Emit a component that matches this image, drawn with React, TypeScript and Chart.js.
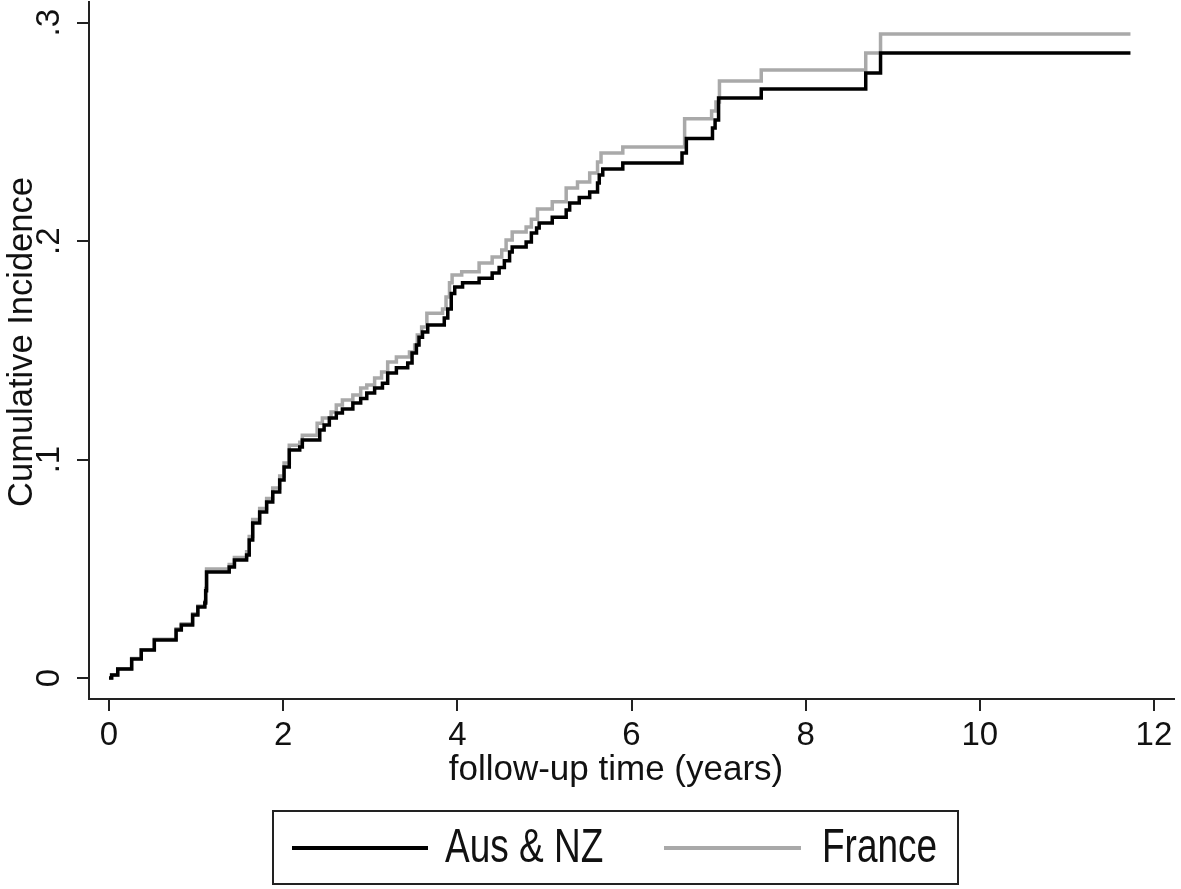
import React, { useEffect, useRef } from 'react';
import { Chart, registerables } from 'chart.js';

Chart.register(...registerables);

// ---- data ----
const seriesLabels = ['Aus & NZ', 'France'];

const ausTimes = [0, 0.03, 0.10, 0.26, 0.37, 0.52, 0.77, 0.83, 0.96, 1.02, 1.10, 1.11, 1.12, 1.38, 1.44, 1.58, 1.61, 1.65, 1.73, 1.81, 1.88, 1.96, 2.01, 2.07, 2.19, 2.22, 2.42, 2.47, 2.53, 2.61, 2.68, 2.80, 2.89, 2.96, 3.05, 3.14, 3.20, 3.30, 3.43, 3.48, 3.53, 3.56, 3.60, 3.66, 3.85, 3.89, 3.93, 3.97, 4.06, 4.25, 4.40, 4.48, 4.54, 4.60, 4.63, 4.79, 4.85, 4.91, 4.94, 5.09, 5.25, 5.29, 5.40, 5.52, 5.61, 5.63, 5.67, 5.90, 6.58, 6.63, 6.93, 6.96, 7.00, 7.49, 8.69, 8.86, 11.73];
const ausValues = [0, 0.0014, 0.0041, 0.0087, 0.0128, 0.0174, 0.0220, 0.0243, 0.0288, 0.0325, 0.0343, 0.040, 0.0485, 0.0508, 0.0540, 0.0563, 0.0632, 0.0710, 0.0760, 0.0806, 0.0852, 0.0907, 0.0966, 0.1044, 0.1058, 0.1090, 0.1136, 0.1158, 0.1190, 0.1213, 0.1232, 0.1259, 0.1280, 0.1305, 0.1328, 0.1350, 0.1397, 0.1420, 0.1442, 0.1488, 0.1525, 0.1560, 0.1584, 0.1616, 0.1648, 0.1690, 0.1760, 0.1790, 0.1810, 0.1830, 0.1854, 0.1880, 0.1910, 0.1950, 0.1973, 0.1996, 0.2037, 0.2060, 0.2083, 0.2110, 0.2143, 0.2175, 0.2200, 0.2225, 0.2266, 0.2303, 0.2330, 0.2358, 0.2404, 0.2470, 0.2518, 0.2555, 0.2656, 0.2697, 0.2770, 0.2862, 0.2862];

const franceTimes = [0, 0.03, 0.10, 0.26, 0.37, 0.52, 0.77, 0.83, 0.96, 1.02, 1.10, 1.11, 1.12, 1.38, 1.44, 1.58, 1.61, 1.65, 1.73, 1.81, 1.88, 1.96, 2.01, 2.07, 2.19, 2.22, 2.39, 2.45, 2.55, 2.61, 2.68, 2.80, 2.89, 2.96, 3.05, 3.13, 3.20, 3.30, 3.45, 3.51, 3.54, 3.59, 3.65, 3.83, 3.87, 3.91, 3.94, 4.05, 4.25, 4.40, 4.51, 4.56, 4.63, 4.79, 4.85, 4.92, 5.09, 5.25, 5.38, 5.52, 5.61, 5.65, 5.90, 6.61, 6.92, 6.97, 7.01, 7.49, 8.69, 8.86, 11.73];
const franceValues = [0, 0.0014, 0.0043, 0.0089, 0.0130, 0.0178, 0.0226, 0.0249, 0.0294, 0.0330, 0.0350, 0.041, 0.0499, 0.0520, 0.0552, 0.0578, 0.0648, 0.0726, 0.0776, 0.0822, 0.0870, 0.0925, 0.0985, 0.1066, 0.1080, 0.1112, 0.1167, 0.1190, 0.1218, 0.1250, 0.1273, 0.1296, 0.1328, 0.1342, 0.1374, 0.1401, 0.1447, 0.1470, 0.1493, 0.1525, 0.1570, 0.1607, 0.1670, 0.1690, 0.1745, 0.1810, 0.1845, 0.1860, 0.1900, 0.1928, 0.1960, 0.2005, 0.2042, 0.2065, 0.2100, 0.2147, 0.2180, 0.2243, 0.2271, 0.2312, 0.2363, 0.2404, 0.2431, 0.2560, 0.2596, 0.2637, 0.2733, 0.2784, 0.2862, 0.2949, 0.2949];

const xTickValues = [0, 2, 4, 6, 8, 10, 12];
const xTickLabels = ['0', '2', '4', '6', '8', '10', '12'];
const yTickValues = [0, 0.1, 0.2, 0.3];
const yTickLabels = ['0', '.1', '.2', '.3'];
const xTitle = 'follow-up time (years)';
const yTitle = 'Cumulative Incidence';

// ---- styles ----
const FONT = "'Liberation Sans', Arial, Helvetica, sans-serif";
const AXIS_COLOR = '#222222';
const TEXT_COLOR = '#111111';
const seriesColors = ['#000000', '#a9a9a9'];

const axisTextPlugin = {
  id: 'axisText',
  afterDraw(chart: any) {
    const ctx = chart.ctx;
    const s = chart.scales.y;
    ctx.save();
    ctx.fillStyle = TEXT_COLOR;
    ctx.textAlign = 'center';
    ctx.textBaseline = 'middle';
    // rotated y tick labels
    ctx.font = `33px ${FONT}`;
    yTickValues.forEach((v, i) => {
      const py = s.getPixelForValue(v);
      ctx.save();
      ctx.translate(50, py);
      ctx.rotate(-Math.PI / 2);
      ctx.fillText(yTickLabels[i], 0, 0);
      ctx.restore();
    });
    // y title
    ctx.font = `34.5px ${FONT}`;
    ctx.save();
    ctx.translate(22, 342);
    ctx.rotate(-Math.PI / 2);
    ctx.fillText(yTitle, 0, 0);
    ctx.restore();
    // x title
    ctx.font = `35px ${FONT}`;
    ctx.fillText(xTitle, 616, 770);
    ctx.restore();
  },
};

const legendBoxPlugin = {
  id: 'legendBox',
  afterDraw(chart: any) {
    const ctx = chart.ctx;
    ctx.save();
    ctx.strokeStyle = AXIS_COLOR;
    ctx.lineWidth = 2;
    ctx.strokeRect(273, 811, 685, 73);
    const slots = [
      { x0: 292, x1: 428, tx: 445 },
      { x0: 664, x1: 801, tx: 822 },
    ];
    chart.data.datasets.forEach((ds: any, i: number) => {
      const sl = slots[i];
      ctx.strokeStyle = ds.borderColor;
      ctx.lineWidth = 4;
      ctx.beginPath();
      ctx.moveTo(sl.x0, 848);
      ctx.lineTo(sl.x1, 848);
      ctx.stroke();
      ctx.fillStyle = TEXT_COLOR;
      ctx.font = `37px ${FONT}`;
      ctx.textAlign = 'left';
      ctx.textBaseline = 'middle';
      ctx.save();
      ctx.translate(sl.tx, 849);
      ctx.scale(1, 1.3);
      ctx.fillText(ds.label, 0, 0);
      ctx.restore();
    });
    ctx.restore();
  },
};

export default function App() {
  const canvasRef = useRef<HTMLCanvasElement>(null);

  useEffect(() => {
    document.body.style.margin = '0';
    const canvas = canvasRef.current;
    if (!canvas) return;

    const makePoints = (ts: number[], vs: number[]) => ts.map((t, i) => ({ x: t, y: vs[i] }));

    const chart = new Chart(canvas, {
      type: 'line',
      data: {
        datasets: [
          {
            label: seriesLabels[0],
            data: makePoints(ausTimes, ausValues),
            borderColor: seriesColors[0],
            backgroundColor: seriesColors[0],
            borderWidth: 3.5,
            stepped: 'before',
            pointRadius: 0,
            fill: false,
          },
          {
            label: seriesLabels[1],
            data: makePoints(franceTimes, franceValues),
            borderColor: seriesColors[1],
            backgroundColor: seriesColors[1],
            borderWidth: 3.5,
            stepped: 'before',
            pointRadius: 0,
            fill: false,
          },
        ],
      },
      options: {
        animation: false,
        responsive: true,
        maintainAspectRatio: false,
        layout: { padding: { top: 2, right: 7, bottom: 0, left: 0 } },
        plugins: {
          legend: { display: false },
          tooltip: { enabled: false },
        },
        scales: {
          x: {
            type: 'linear',
            min: -0.23,
            max: 12.23,
            afterBuildTicks: (s: any) => {
              s.ticks = xTickValues.map((v) => ({ value: v }));
            },
            afterFit: (s: any) => {
              s.height = 190;
            },
            border: { display: true, color: AXIS_COLOR, width: 2 },
            grid: {
              display: true,
              drawOnChartArea: false,
              drawTicks: true,
              tickLength: 12,
              color: AXIS_COLOR,
              lineWidth: 2,
            },
            ticks: {
              color: TEXT_COLOR,
              font: { family: FONT, size: 33 },
              padding: 5,
              maxRotation: 0,
              minRotation: 0,
              autoSkip: false,
              callback: (v: any) => {
                const idx = xTickValues.indexOf(Number(v));
                return idx >= 0 ? xTickLabels[idx] : '';
              },
            },
            title: { display: false },
          },
          y: {
            type: 'linear',
            min: -0.0096,
            max: 0.3095,
            afterBuildTicks: (s: any) => {
              s.ticks = yTickValues.map((v) => ({ value: v }));
            },
            afterFit: (s: any) => {
              s.width = 89;
            },
            border: { display: true, color: AXIS_COLOR, width: 2 },
            grid: {
              display: true,
              drawOnChartArea: false,
              drawTicks: true,
              tickLength: 12,
              color: AXIS_COLOR,
              lineWidth: 2,
            },
            ticks: { display: false },
            title: { display: false },
          },
        },
      },
      plugins: [axisTextPlugin, legendBoxPlugin],
    });

    return () => chart.destroy();
  }, []);

  return (
    <div style={{ position: 'fixed', left: 0, top: 0, width: 1181, height: 889, background: '#ffffff' }}>
      <canvas ref={canvasRef} />
    </div>
  );
}
